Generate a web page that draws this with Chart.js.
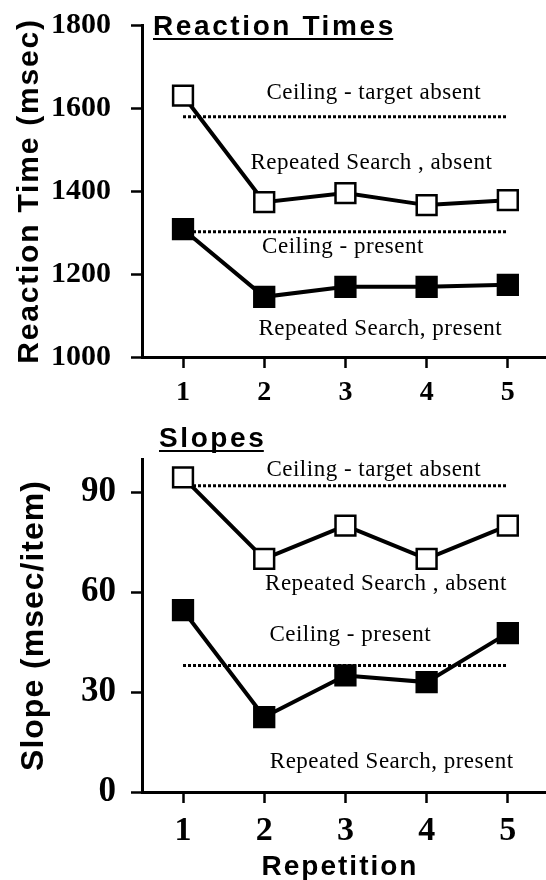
<!DOCTYPE html>
<html>
<head>
<meta charset="utf-8">
<script src="https://cdn.jsdelivr.net/npm/chart.js@4.4.0/dist/chart.umd.min.js"></script>
<style>
  body { margin: 0; background: #fff; }
  #wrap { position: relative; width: 546px; height: 880px; }
  #wrap canvas { position: absolute; left: 0; }
</style>
</head>
<body>
<div id="wrap">
  <canvas id="rt" width="546" height="410" style="top:0"></canvas>
  <canvas id="slope" width="546" height="470" style="top:410px"></canvas>
</div>
<script>
  // data
  const repetitions = [1, 2, 3, 4, 5];

  const rtAbsent = [1630, 1373, 1395, 1366, 1378];
  const rtPresent = [1308, 1145, 1169, 1169, 1174];
  const rtCeilingAbsent = 1579;
  const rtCeilingPresent = 1302;
  const rtTicks = [1000, 1200, 1400, 1600, 1800];

  const slopeAbsent = [94.5, 70, 80, 70, 80];
  const slopePresent = [54.6, 22.5, 35, 33, 47.7];
  const slopeCeilingAbsent = 92;
  const slopeCeilingPresent = 38;
  const slopeTicks = [0, 30, 60, 90];

  const SERIF = '"Liberation Serif", "Times New Roman", serif';
  const SANS = '"Liberation Sans", Arial, sans-serif';

  function pts(values) {
    return repetitions.map((r, i) => ({ x: r, y: values[i] }));
  }
  function flat(v) {
    return repetitions.map(r => ({ x: r, y: v }));
  }

  function series(values, filled) {
    return {
      data: pts(values),
      borderColor: '#000',
      borderWidth: 4,
      pointStyle: 'rect',
      pointRadius: 14,
      pointBorderWidth: 2.5,
      pointBorderColor: '#000',
      pointBackgroundColor: filled ? '#000' : '#fff',
      tension: 0
    };
  }
  function ceiling(v) {
    return {
      data: flat(v),
      borderColor: '#000',
      borderWidth: 3,
      borderDash: [3, 2],
      pointRadius: 0
    };
  }

  // keep chart.js from adding its own room around the axes
  function noPad(s) {
    s.paddingTop = s.paddingBottom = s.paddingLeft = s.paddingRight = 0;
  }

  // headings, axis titles and notes
  const textPlugin = {
    id: 'texts',
    afterDraw(chart, args, o) {
      const ctx = chart.ctx;
      const xs = chart.scales.x, ys = chart.scales.y;
      ctx.save();
      ctx.fillStyle = '#000';

      ctx.font = '23px ' + SERIF;
      ctx.letterSpacing = '0.5px';
      ctx.textAlign = 'center';
      ctx.textBaseline = 'middle';
      o.notes.forEach(n => {
        ctx.fillText(n.text, xs.getPixelForValue(n.x), ys.getPixelForValue(n.y));
      });

      ctx.font = 'bold 28px ' + SANS;
      ctx.letterSpacing = '2.6px';
      ctx.textAlign = 'left';
      ctx.textBaseline = 'alphabetic';
      ctx.fillText(o.heading.text, o.heading.left, o.heading.base);
      const w = ctx.measureText(o.heading.text).width - 2.6;
      ctx.fillRect(o.heading.left, o.heading.base + 3, w, 2);

      const area = chart.chartArea;
      ctx.save();
      ctx.font = 'bold ' + o.yTitle.size + 'px ' + SANS;
      ctx.letterSpacing = o.yTitle.spacing + 'px';
      ctx.translate(o.yTitle.base, (area.top + area.bottom) / 2);
      ctx.rotate(-Math.PI / 2);
      ctx.textAlign = 'center';
      ctx.fillText(o.yTitle.text, 0, 0);
      ctx.restore();

      if (o.xTitle) {
        ctx.font = 'bold 28px ' + SANS;
        ctx.letterSpacing = '2px';
        ctx.textAlign = 'center';
        ctx.fillText(o.xTitle.text, o.xTitle.x, o.xTitle.base);
      }
      ctx.restore();
    }
  };

  function makeChart(id, cfg) {
    return new Chart(document.getElementById(id), {
      type: 'line',
      data: {
        datasets: [
          series(cfg.absent, false),
          series(cfg.present, true),
          ceiling(cfg.ceilAbsent),
          ceiling(cfg.ceilPresent)
        ]
      },
      options: {
        responsive: false,
        animation: false,
        layout: { autoPadding: false, padding: { top: cfg.top, left: 0, right: 0, bottom: 0 } },
        plugins: {
          legend: { display: false },
          tooltip: { enabled: false },
          texts: cfg.texts
        },
        scales: {
          x: {
            type: 'linear',
            min: 0.495,
            max: 5.47,
            afterBuildTicks: s => { s.ticks = repetitions.map(v => ({ value: v })); },
            afterFit: s => { s.height = cfg.xHeight; noPad(s); },
            grid: { display: true, drawOnChartArea: false, drawTicks: true, tickLength: 11, tickWidth: 2.5, tickColor: '#000' },
            border: { display: true, width: 3, color: '#000' },
            ticks: {
              color: '#000', padding: cfg.xPad,
              font: { family: SERIF, weight: 'bold', size: cfg.xFont },
              callback: v => String(v)
            }
          },
          y: {
            min: cfg.yMin,
            max: cfg.yMax,
            afterBuildTicks: s => { s.ticks = cfg.yTicks.map(v => ({ value: v })); },
            afterFit: s => { s.width = 142; noPad(s); },
            grid: { display: true, drawOnChartArea: false, drawTicks: true, tickLength: 11, tickWidth: 2.5, tickColor: '#000' },
            border: { display: true, width: 3, color: '#000' },
            ticks: {
              color: '#000', padding: cfg.yPad,
              font: { family: SERIF, weight: 'bold', size: cfg.yFont },
              callback: v => String(v)
            }
          }
        }
      },
      plugins: [textPlugin]
    });
  }

  makeChart('rt', {
    absent: rtAbsent, present: rtPresent,
    ceilAbsent: rtCeilingAbsent, ceilPresent: rtCeilingPresent,
    yMin: 1000, yMax: 1800, yTicks: rtTicks,
    top: 25, xHeight: 53, xPad: 8, xFont: 28, yPad: 20, yFont: 30,
    texts: {
      notes: [
        { text: 'Ceiling - target absent', x: 3.35, y: 1636 },
        { text: 'Repeated Search , absent', x: 3.32, y: 1467 },
        { text: 'Ceiling - present', x: 2.97, y: 1265 },
        { text: 'Repeated Search, present', x: 3.43, y: 1067 }
      ],
      heading: { text: 'Reaction Times', left: 153, base: 35 },
      yTitle: { text: 'Reaction Time (msec)', size: 30, spacing: 1.8, base: 38 }
    }
  });

  makeChart('slope', {
    absent: slopeAbsent, present: slopePresent,
    ceilAbsent: slopeCeilingAbsent, ceilPresent: slopeCeilingPresent,
    yMin: 0, yMax: 100, yTicks: slopeTicks,
    top: 49, xHeight: 88, xPad: 8, xFont: 34, yPad: 15, yFont: 35,
    texts: {
      notes: [
        { text: 'Ceiling - target absent', x: 3.35, y: 96.6 },
        { text: 'Repeated Search , absent', x: 3.5, y: 62.4 },
        { text: 'Ceiling - present', x: 3.06, y: 47.1 },
        { text: 'Repeated Search, present', x: 3.57, y: 9 }
      ],
      heading: { text: 'Slopes', left: 159, base: 37 },
      yTitle: { text: 'Slope (msec/item)', size: 32, spacing: 1, base: 43 },
      xTitle: { text: 'Repetition', x: 340, base: 465 }
    }
  });
</script>
</body>
</html>
